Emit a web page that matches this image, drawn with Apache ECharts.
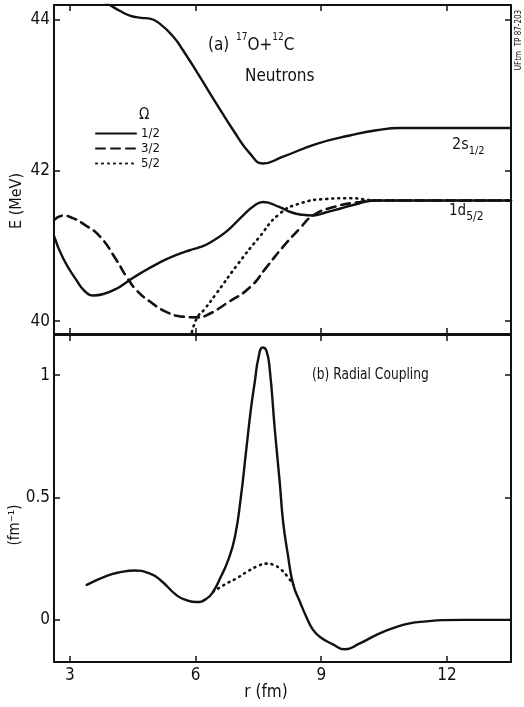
<!DOCTYPE html>
<html>
<head>
<meta charset="utf-8">
<script src="https://cdn.jsdelivr.net/npm/echarts@6/dist/echarts.min.js"></script>
<style>
  html, body { margin: 0; padding: 0; background: #fff; }
  #chart { width: 524px; height: 707px; }
</style>
</head>
<body>
<div id="chart"></div>
<script>
// (a) level energies, E in MeV vs r in fm
const r2s = [3.6, 3.95, 4.2, 4.43, 4.7, 4.91, 5.15, 5.47, 5.70, 6.10, 6.50, 6.90, 7.30, 7.61, 8.09, 8.89, 9.68, 10.32, 10.88, 13.53]
const e2s = [44.3, 44.19, 44.11, 44.05, 44.02, 44.01, 43.94, 43.77, 43.59, 43.24, 42.88, 42.53, 42.22, 42.09, 42.18, 42.35, 42.46, 42.53, 42.56, 42.56]

const rOmega1 = [2.62, 2.84, 3.16, 3.35, 3.56, 3.80, 4.11, 4.36, 4.70, 5.15, 5.50, 5.86, 6.10, 6.34, 6.74, 7.13, 7.40, 7.61, 8.01, 8.30, 8.55, 8.80, 9.10, 9.44, 9.90, 10.33, 13.53]
const eOmega1 = [41.13, 40.83, 40.54, 40.40, 40.34, 40.36, 40.43, 40.52, 40.64, 40.78, 40.87, 40.94, 40.98, 41.04, 41.19, 41.40, 41.53, 41.58, 41.51, 41.44, 41.41, 41.40, 41.44, 41.49, 41.56, 41.60, 41.60]

const rOmega3 = [2.62, 2.84, 3.05, 3.32, 3.72, 4.11, 4.35, 4.59, 4.91, 5.31, 5.70, 6.02, 6.27, 6.75, 7.30, 7.70, 8.08, 8.49, 8.80, 9.28, 9.92, 10.33, 13.53]
const eOmega3 = [41.34, 41.40, 41.37, 41.29, 41.12, 40.81, 40.59, 40.41, 40.26, 40.12, 40.06, 40.05, 40.08, 40.24, 40.45, 40.72, 40.98, 41.23, 41.40, 41.51, 41.58, 41.60, 41.60]

const rOmega5 = [5.88, 6.03, 6.20, 6.50, 7.00, 7.50, 8.00, 8.49, 9.13, 9.68, 10.33, 13.53]
const eOmega5 = [39.78, 40.04, 40.15, 40.37, 40.75, 41.10, 41.42, 41.56, 41.62, 41.63, 41.60, 41.60]

// (b) radial coupling, fm^-1
const rCoup = [3.40, 3.88, 4.20, 4.55, 4.90, 5.15, 5.55, 5.75, 6.02, 6.25, 6.42, 6.60, 6.78, 6.94, 7.08, 7.20, 7.32, 7.42, 7.50, 7.60, 7.69, 7.77, 7.89, 8.01, 8.09, 8.20, 8.33, 8.50, 8.65, 8.80, 8.97, 9.28, 9.56, 9.92, 10.32, 10.71, 11.11, 11.51, 11.90, 12.40, 13.53]
const vCoup = [0.143, 0.18, 0.195, 0.202, 0.19, 0.164, 0.10, 0.083, 0.073, 0.085, 0.115, 0.175, 0.245, 0.34, 0.50, 0.68, 0.86, 0.98, 1.07, 1.113, 1.10, 1.025, 0.78, 0.56, 0.40, 0.27, 0.145, 0.07, 0.01, -0.04, -0.07, -0.10, -0.12, -0.096, -0.061, -0.034, -0.014, -0.006, -0.001, 0, 0]

const rCoupDot = [6.42, 6.70, 6.98, 7.23, 7.46, 7.70, 7.86, 8.01, 8.18, 8.33]
const vCoupDot = [0.115, 0.145, 0.17, 0.197, 0.218, 0.23, 0.225, 0.21, 0.18, 0.145]

const xTicks = [3, 6, 9, 12]
const eTicks = [40, 42, 44]
const vTicks = [0, 0.5, 1]

const FONT = "'DejaVu Sans Condensed', 'Liberation Sans Narrow', sans-serif"
const INK = '#111'

const chart = echarts.init(document.getElementById('chart'))

const pairs = (xs, ys) => xs.map((x, i) => [x, ys[i]])

function xAx(grid, position, labels) {
  return {
    type: 'value', gridIndex: grid, position: position,
    min: 2.62, max: 13.53,
    axisLine: { show: true, onZero: false, lineStyle: { color: INK, width: 2 } },
    axisTick: { show: true, inside: true, length: 6, customValues: xTicks, lineStyle: { color: INK, width: 1.5 } },
    axisLabel: labels ? { show: true, customValues: xTicks, margin: 5, fontSize: 17, color: INK, fontFamily: FONT } : { show: false },
    splitLine: { show: false }
  }
}

function yAx(grid, position, min, max, ticks, labels) {
  return {
    type: 'value', gridIndex: grid, position: position,
    min: min, max: max,
    axisLine: { show: true, onZero: false, lineStyle: { color: INK, width: 2 } },
    axisTick: { show: true, inside: true, length: 6, customValues: ticks, lineStyle: { color: INK, width: 1.5 } },
    axisLabel: labels ? {
      show: true, customValues: ticks, margin: 4, fontSize: 17, color: INK, fontFamily: FONT,
      formatter: v => (v === 0.5 ? '0.5' : String(v))
    } : { show: false },
    splitLine: { show: false }
  }
}

function line(name, xs, ys, xi, yi, type) {
  return {
    name: name, type: 'line', xAxisIndex: xi, yAxisIndex: yi,
    data: pairs(xs, ys), smooth: 0.5, symbol: 'none', clip: true,
    lineStyle: { color: INK, width: type === 'solid' ? 2.4 : 2.6, type: type, cap: 'round' },
    itemStyle: { color: INK },
    emphasis: { disabled: true }
  }
}

const option = {
  animation: false,
  backgroundColor: '#fff',
  grid: [
    { left: 54, right: 13, top: 5, height: 329 },
    { left: 54, right: 13, top: 335, height: 327 }
  ],
  xAxis: [
    xAx(0, 'bottom', false),
    xAx(0, 'top', false),
    xAx(1, 'bottom', true),
    xAx(1, 'top', false)
  ],
  yAxis: [
    yAx(0, 'left', 39.83, 44.19, eTicks, true),
    yAx(0, 'right', 39.83, 44.19, eTicks, false),
    yAx(1, 'left', -0.172, 1.164, vTicks, true),
    yAx(1, 'right', -0.172, 1.164, vTicks, false)
  ],
  legend: {
    data: ['1/2', '3/2', '5/2'],
    orient: 'vertical', left: 90, top: 122,
    icon: 'inherit',
    itemWidth: 40, itemHeight: 12, itemGap: 2,
    itemStyle: { opacity: 0 },
    selectedMode: false,
    textStyle: { fontSize: 13, color: INK, fontFamily: FONT }
  },
  series: [
    line('2s', r2s, e2s, 0, 0, 'solid'),
    line('1/2', rOmega1, eOmega1, 0, 0, 'solid'),
    line('3/2', rOmega3, eOmega3, 0, 0, [9, 6]),
    line('5/2', rOmega5, eOmega5, 0, 0, [1, 5]),
    line('coupling', rCoup, vCoup, 2, 2, 'solid'),
    line('coupling 5/2', rCoupDot, vCoupDot, 2, 2, [1, 5])
  ],
  graphic: [
    {
      type: 'text', left: 208, top: 32,
      style: {
        text: '{n|(a)}  {s|17}{n|O+}{s|12}{n|C}',
        rich: {
          n: { fontSize: 17, fontFamily: FONT, fill: INK, verticalAlign: 'bottom', lineHeight: 22 },
          s: { fontSize: 10, fontFamily: FONT, fill: INK, verticalAlign: 'top', lineHeight: 22 }
        }
      }
    },
    { type: 'text', left: 245, top: 68, style: { text: 'Neutrons', fontSize: 17, fontFamily: FONT, fill: INK } },
    { type: 'text', left: 139, top: 108, style: { text: 'Ω', fontSize: 15, fontFamily: FONT, fill: INK } },
    {
      type: 'text', left: 452, top: 137,
      style: {
        text: '{n|2s}{s|1/2}',
        rich: {
          n: { fontSize: 16, fontFamily: FONT, fill: INK, verticalAlign: 'top', lineHeight: 20 },
          s: { fontSize: 11, fontFamily: FONT, fill: INK, verticalAlign: 'bottom', lineHeight: 20 }
        }
      }
    },
    {
      type: 'text', left: 449, top: 204,
      style: {
        text: '{n|1d}{s|5/2}',
        rich: {
          n: { fontSize: 15, fontFamily: FONT, fill: INK, verticalAlign: 'top', lineHeight: 19 },
          s: { fontSize: 12, fontFamily: FONT, fill: INK, verticalAlign: 'bottom', lineHeight: 19 }
        }
      }
    },
    {
      type: 'text', x: 312, y: 375, scaleX: 0.85,
      style: { text: '(b) Radial Coupling', fontSize: 16, fontFamily: FONT, fill: INK, verticalAlign: 'middle' }
    },
    {
      type: 'text', x: 17, y: 201, rotation: Math.PI / 2,
      style: { text: 'E (MeV)', fontSize: 16, fontFamily: FONT, fill: INK, align: 'center', verticalAlign: 'middle' }
    },
    {
      type: 'text', x: 15, y: 525, rotation: Math.PI / 2,
      style: { text: '(fm⁻¹)', fontSize: 15, fontFamily: FONT, fill: INK, align: 'center', verticalAlign: 'middle' }
    },
    {
      type: 'text', x: 266, y: 693,
      style: { text: 'r (fm)', fontSize: 17, fontFamily: FONT, fill: INK, align: 'center', verticalAlign: 'middle' }
    },
    {
      type: 'text', x: 519, y: 40, rotation: Math.PI / 2,
      style: { text: 'UFtm  TP 87-203', fontSize: 8, fontFamily: FONT, fill: INK, align: 'center', verticalAlign: 'middle' }
    }
  ]
}

chart.setOption(option)

window.addEventListener('resize', () => chart.resize())
</script>
</body>
</html>
